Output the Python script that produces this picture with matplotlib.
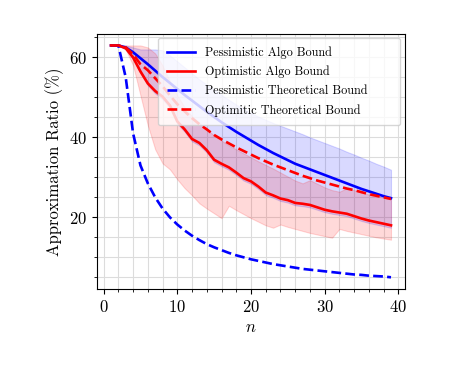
import matplotlib
matplotlib.use('Agg')
import matplotlib.pyplot as plt
import numpy as np
from matplotlib.ticker import MultipleLocator

# values, n = 1..39
n = list(range(1, 40))

pess_algo = [63, 63, 62.5, 61.3, 59.8, 58.3, 56.7, 55.1, 53.6, 52.1,
             50.6, 49.2, 47.8, 46.4, 45.1, 43.8, 42.6, 41.4, 40.3, 39.2,
             38.1, 37.1, 36.1, 35.2, 34.3, 33.4, 32.7, 32.0, 31.3, 30.6,
             29.9, 29.2, 28.5, 27.8, 27.1, 26.5, 25.9, 25.3, 24.8]
pess_hi = [63, 63, 63, 62.5, 62, 62, 62, 61.8, 60.5, 59,
           57.5, 56, 54.5, 53.2, 51.9, 50.6, 49.4, 48.2, 47.1, 46.1,
           45.2, 44.4, 43.6, 42.9, 42.2, 41.5, 40.8, 40.0, 39.3, 38.6,
           37.9, 37.2, 36.4, 35.7, 34.9, 34.2, 33.4, 32.7, 31.9]
pess_lo = [63, 63, 62, 59.5, 56, 53, 51, 49.5, 47.3, 43.4,
           41.4, 39, 38, 36.2, 33.8, 32.8, 31.9, 30.6, 29.2, 28.4,
           27.1, 25.6, 24.9, 24.1, 23.7, 23, 22.8, 22.5, 21.9, 21.3,
           20.9, 20.6, 20.3, 19.7, 19.1, 18.6, 18.2, 17.8, 17.4]

opt_algo = [63, 63, 62.3, 60, 56.5, 53.5, 51.6, 50.2, 48, 44,
            42, 39.6, 38.6, 36.8, 34.4, 33.4, 32.5, 31.2, 29.8, 29,
            27.7, 26.2, 25.5, 24.7, 24.3, 23.6, 23.4, 23.1, 22.5, 21.9,
            21.5, 21.2, 20.9, 20.3, 19.7, 19.2, 18.8, 18.4, 18.0]
opt_hi = [63, 63, 63, 63, 63, 62.5, 61, 58, 54, 50.5,
          47.5, 45.3, 43.6, 42, 40.5, 39.2, 38, 37, 36, 35,
          34, 33.1, 32.2, 31.2, 30.2, 29.2, 28.5, 29.3, 28.4, 27.5,
          26.8, 26.4, 27.3, 26.8, 26.2, 25.7, 25.3, 24.9, 24.5]
opt_lo = [63, 63, 62, 58, 50.5, 43, 37, 33.5, 32, 29.5,
          27.3, 25.5, 23.5, 22.2, 21, 19.8, 22.9, 21.8, 20.8, 19.8,
          18.9, 18, 17.4, 18.2, 17.6, 17.1, 16.6, 16.1, 15.7, 15.3,
          14.9, 17.1, 16.6, 16.2, 15.8, 15.4, 15.0, 14.7, 14.4]

pess_theory = [63, 63, 55, 41, 33, 28.5, 25, 22.2, 20, 18.2,
               16.7, 15.4, 14.3, 13.3, 12.5, 11.8, 11.1, 10.5, 10, 9.5,
               9.1, 8.7, 8.3, 8, 7.7, 7.4, 7.1, 6.9, 6.7, 6.5,
               6.3, 6.1, 5.9, 5.7, 5.6, 5.4, 5.3, 5.2, 5.0]
opt_theory = [63, 63, 62.5, 60.8, 58.3, 56.8, 54.8, 52.8, 50.5, 48.3,
              46.5, 44.8, 43.3, 42, 40.6, 39.5, 38.5, 37.5, 36.6, 35.7,
              34.8, 34, 33.2, 32.5, 31.8, 31.1, 30.4, 29.8, 29.2, 28.7,
              28.2, 27.7, 27.2, 26.8, 26.3, 25.8, 25.4, 25.0, 24.6]

plt.rcParams['font.family'] = 'cmr10'
plt.rcParams['mathtext.fontset'] = 'cm'
plt.rcParams['axes.formatter.use_mathtext'] = True
plt.rcParams['font.size'] = 12

fig = plt.figure(figsize=(4.49, 3.68), dpi=100)
ax = fig.add_axes([0.216, 0.215, 0.686, 0.693])

ax.fill_between(n, pess_lo, pess_hi, color='blue', alpha=0.15, lw=0.8)
ax.fill_between(n, opt_lo, opt_hi, color='red', alpha=0.15, lw=0.8)
ax.plot(n, pess_algo, color='blue', lw=1.9, label='Pessimistic Algo Bound')
ax.plot(n, opt_algo, color='red', lw=1.9, label='Optimistic Algo Bound')
ax.plot(n, pess_theory, color='blue', lw=1.9, ls='--', label='Pessimistic Theoretical Bound')
ax.plot(n, opt_theory, color='red', lw=1.9, ls='--', label='Optimitic Theoretical Bound')

ax.xaxis.set_major_locator(MultipleLocator(10))
ax.xaxis.set_minor_locator(MultipleLocator(2))
ax.yaxis.set_major_locator(MultipleLocator(20))
ax.yaxis.set_minor_locator(MultipleLocator(5))
ax.tick_params(labelsize=12)
ax.grid(which='both', color='#dcdcdc', lw=0.8)
ax.set_axisbelow(True)

ax.set_xlabel('$n$', fontsize=12)
ax.set_ylabel('Approximation Ratio (%)', fontsize=12)
ax.legend(loc='upper left', bbox_to_anchor=(0.198, 0, 0.786, 0.984),
          mode='expand', borderaxespad=0, fontsize=8.8, borderpad=0.7,
          handlelength=2.35, labelspacing=0.55)

fig.savefig('out.png', dpi=100)
